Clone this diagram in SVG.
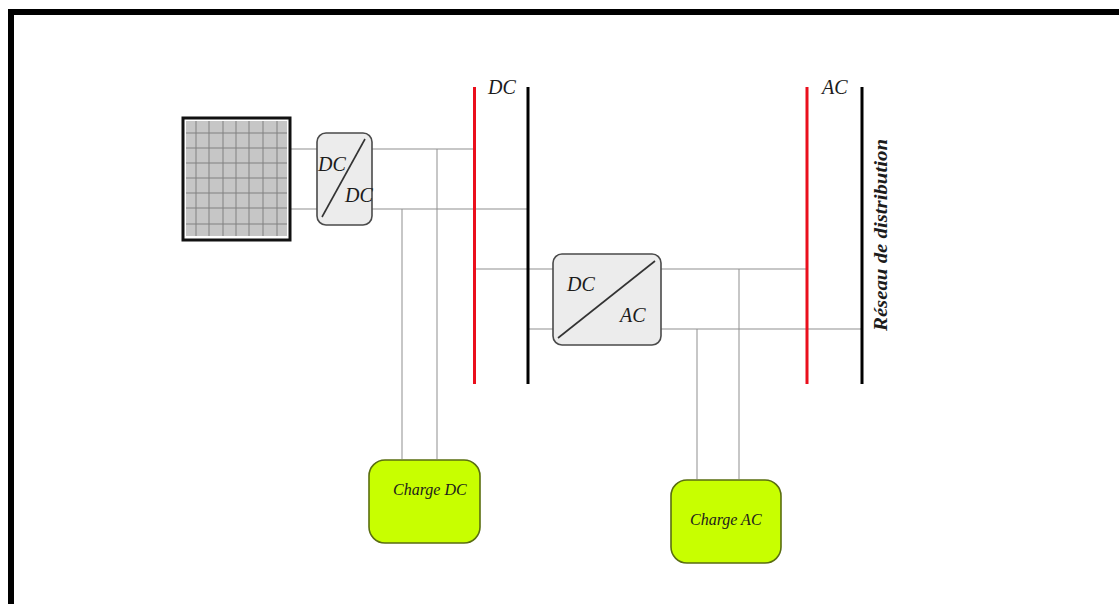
<svg xmlns="http://www.w3.org/2000/svg" width="1119" height="604" viewBox="0 0 1119 604">
<style>
.t{font-family:"Liberation Serif","Times New Roman",serif;font-style:italic;fill:#1c1c1c}
.w{fill:none;stroke:#8f8f8f;stroke-width:1}
.g{stroke:#808080;stroke-width:1;fill:none}
.conv{fill:#ececec;stroke:#4a4a4a;stroke-width:1.6}
.load{fill:#c8ff00;stroke:#5a6e10;stroke-width:1.6}
.diag{stroke:#333;stroke-width:1.6}
</style>
<rect width="1119" height="604" fill="#fff"/>
<path id="frame" d="M1119 12H11V604" fill="none" stroke="#000" stroke-width="6"/>
<g id="connectors">
<path class="w" d="M291 149H317M291 209H317M372 149H474M372 209H528M437 149V459M402 209V459"/>
<path class="w" d="M474 269H553M528 329H553M661 269H807M661 329H862M739 269V479M697 329V479"/>
</g>
<g id="bus-dc-red"><line x1="474.500" y1="87" x2="474.500" y2="384" stroke="#ea0f1c" stroke-width="3"/></g>
<g id="bus-dc-black"><line x1="528" y1="87" x2="528" y2="384" stroke="#000" stroke-width="3"/><text class="t" x="488" y="94" font-size="20">DC</text></g>
<g id="bus-ac-red"><line x1="807" y1="87" x2="807" y2="384" stroke="#ea0f1c" stroke-width="3"/></g>
<g id="bus-ac-black"><line x1="862" y1="87" x2="862" y2="384" stroke="#000" stroke-width="3"/><text class="t" x="822" y="94" font-size="20">AC</text></g>
<g id="reseau"><text class="t" transform="translate(887 331) rotate(-90)" font-size="19" font-weight="bold" textLength="192" lengthAdjust="spacingAndGlyphs">Réseau de distribution</text></g>
<g id="pv-panel">
<rect x="183" y="118" width="107" height="122" fill="#fff" stroke="#111" stroke-width="3"/>
<rect x="186" y="121" width="101" height="115" fill="#c6c6c6"/>
<path class="g" d="M196 121V236M209 121V236M223 121V236M236 121V236M249 121V236M263 121V236M277 121V236M186 133H287M186 148H287M186 163H287M186 178H287M186 193H287M186 208H287M186 224H287"/>
</g>
<g id="dcdc">
<rect class="conv" x="317" y="133" width="55" height="92" rx="9"/>
<line class="diag" x1="365" y1="139" x2="322" y2="217"/>
<text class="t" x="318" y="171" font-size="20">DC</text>
<text class="t" x="345" y="202" font-size="20">DC</text>
</g>
<g id="dcac">
<rect class="conv" x="553" y="254" width="108" height="91" rx="9"/>
<line class="diag" x1="655" y1="261" x2="558" y2="338"/>
<text class="t" x="567" y="291" font-size="20">DC</text>
<text class="t" x="620" y="322" font-size="20">AC</text>
</g>
<g id="charge-dc">
<rect class="load" x="369" y="460" width="111" height="83" rx="16"/>
<text class="t" x="393" y="495" font-size="16">Charge DC</text>
</g>
<g id="charge-ac">
<rect class="load" x="671" y="480" width="110" height="83" rx="16"/>
<text class="t" x="690" y="525" font-size="16">Charge AC</text>
</g>
</svg>
